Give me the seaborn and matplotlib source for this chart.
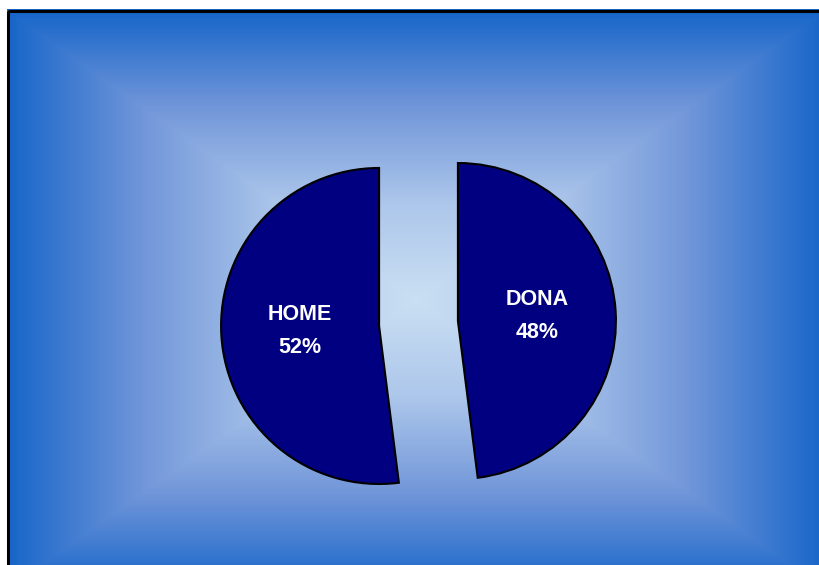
import numpy as np
import matplotlib
matplotlib.use("Agg")
import matplotlib.pyplot as plt
import seaborn as sns
from matplotlib.colors import LinearSegmentedColormap
from matplotlib.patches import Rectangle

categories = ["DONA", "HOME"]
shares = [48, 52]
slice_color = "#000080"

sns.set_theme(style="white")
plt.rcParams['font.family'] = ['Liberation Sans', 'DejaVu Sans']

W, H = 819, 565
fig = plt.figure(figsize=(W / 100, H / 100), dpi=100)
fig.patch.set_facecolor("white")

# background with a rectangular gradient (light centre, dark blue edges)
bg = fig.add_axes([0, 0, 1, 1])
bg.set_xlim(0, W)
bg.set_ylim(H, 0)
bg.axis("off")
cx, cy, hw, hh = 416, 300, 410, 290
xx, yy = np.meshgrid(np.arange(W) + 0.5, np.arange(H) + 0.5)
t = np.maximum(np.abs(xx - cx) / hw, np.abs(yy - cy) / hh)
t = np.clip(t, 0, 1)
cmap = LinearSegmentedColormap.from_list("bg", ["#cadff3", "#adc7eb", "#7196d9", "#1665c9"])
bg.imshow(t, cmap=cmap, vmin=0, vmax=1, extent=(0, W, H, 0), aspect="auto",
          interpolation="bilinear")
# mask outside the frame
bg.add_patch(Rectangle((0, 0), W, 9, facecolor="white", edgecolor="none", zorder=2))
bg.add_patch(Rectangle((0, 0), 7, H, facecolor="white", edgecolor="none", zorder=2))
bg.add_patch(Rectangle((8, 10.5), W + 20, H + 20, facecolor="none", edgecolor="black",
                       linewidth=2.2, zorder=3))

# pie axes: centre at (418.5, 323.5) px, radius 158 px
r_px, pcx, pcy = 158, 418.5, 323.5
half = 1.5 * r_px
ax = fig.add_axes([(pcx - half) / W, (H - pcy - half) / H, 2 * half / W, 2 * half / H])
ax.set_facecolor("none")
ax.axis("off")


def fmt(pct):
    idx = int(np.argmin([abs(pct - s) for s in shares]))
    return f"{categories[idx]}\n{pct:.0f}%"


wedges, texts, autotexts = ax.pie(
    shares, startangle=90, counterclock=False, explode=[0.25, 0.25],
    colors=[slice_color] * len(shares), autopct=fmt, pctdistance=0.5,
    wedgeprops=dict(edgecolor="black", linewidth=1.5),
    textprops=dict(color="white", fontsize=15.5, fontweight="bold", linespacing=1.7),
)
ax.set_xlim(-1.5, 1.5)
ax.set_ylim(-1.5, 1.5)

fig.savefig("out.png", dpi=100)
